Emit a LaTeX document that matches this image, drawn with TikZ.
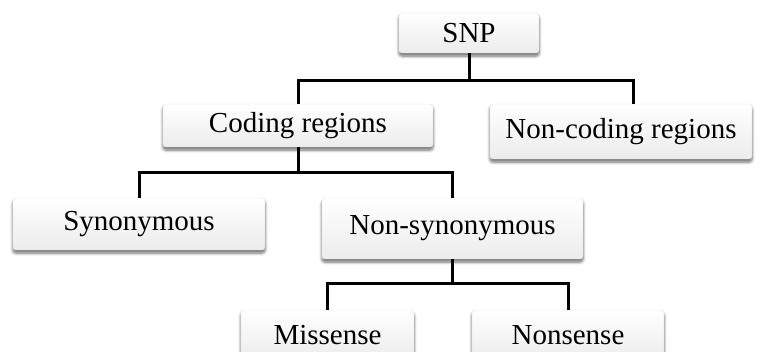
\documentclass[tikz,border=0pt]{standalone}
\usepackage{fontspec}
\setmainfont{Liberation Serif}
\usepackage{tikz}
\usetikzlibrary{shadows,shadows.blur}

\tikzset{
  snpbox/.style={rectangle, rounded corners=3pt, draw=gray!25, line width=0.4pt,
    top color=white, bottom color=gray!15,
    blur shadow={shadow xshift=0pt, shadow yshift=-3pt, shadow blur radius=3pt,
      shadow blur steps=6, shadow opacity=60},
    font=\fontsize{29}{33}\selectfont, inner sep=0pt},
  tree/.style={line width=3pt}
}

\begin{document}
\begin{tikzpicture}[x=1pt,y=-1pt]
\useasboundingbox (0,0) rectangle (766,351);
\node[snpbox, minimum width=140, minimum height=40] (snp) at (469,33) {SNP};
\node[snpbox, minimum width=270, minimum height=43] (coding) at (298,125.5) {Coding regions};
\node[snpbox, minimum width=262, minimum height=55] (noncoding) at (621,131.5) {Non-coding regions};
\node[snpbox, minimum width=252, minimum height=52] (syn) at (139,224) {Synonymous};
\node[snpbox, minimum width=261, minimum height=61] (nonsyn) at (452.5,228.5) {Non-synonymous};
\node[snpbox, minimum width=173, minimum height=50] (missense) at (327.5,335) {Missense};
\node[snpbox, minimum width=192, minimum height=50] (nonsense) at (568,335) {Nonsense};
\draw[tree] (snp.south) -- ++(0,27) -| (coding.north);
\draw[tree] (snp.south) -- ++(0,27) -| ([xshift=12pt]noncoding.north);
\draw[tree] (coding.south) -- ++(0,25) -| (syn.north);
\draw[tree] (coding.south) -- ++(0,25) -| (nonsyn.north);
\draw[tree] (nonsyn.south) -- ++(0,24) -| (missense.north);
\draw[tree] (nonsyn.south) -- ++(0,24) -| (nonsense.north);
\end{tikzpicture}
\end{document}
